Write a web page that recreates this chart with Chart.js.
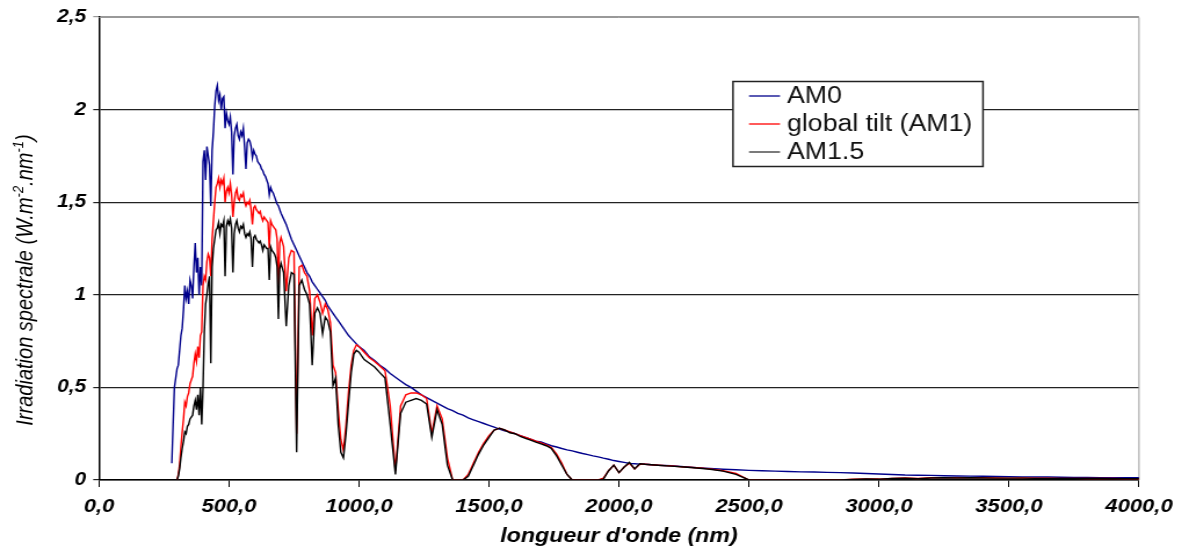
<!DOCTYPE html>
<html><head><meta charset="utf-8">
<script src="https://cdn.jsdelivr.net/npm/chart.js@4/dist/chart.umd.min.js"></script>
<style>html,body{margin:0;padding:0;background:#fff;overflow:hidden;}
#wrap{position:relative;width:1020px;height:548px;transform:scaleX(1.16);transform-origin:0 0;}
canvas{display:block;}</style>
</head><body><div id="wrap"><canvas id="c" width="1020" height="548"></canvas></div>
<script>
// Wavelength grid (nm)
const wavelengths = [
 280,285,290,295,300,305,310,315,320,325,
 330,335,340,345,350,355,360,365,370,375,
 380,385,390,395,400,405,410,415,420,425,
 430,435,440,445,450,455,460,465,470,475,
 480,485,490,495,500,505,510,515,520,525,
 530,535,540,545,550,555,560,565,570,575,
 580,585,590,595,600,605,610,615,620,625,
 630,635,640,645,650,655,660,665,670,675,
 680,685,690,695,700,
 710,720,730,740,750,760,770,780,790,800,
 810,820,830,840,850,860,870,880,890,900,
 910,920,930,940,950,960,970,980,990,1000,
 1020,1040,1060,1080,1100,1120,1140,1160,1180,1200,
 1220,1240,1260,1280,1300,1320,1340,1360,1380,1400,
 1420,1440,1460,1480,1500,1520,1540,1560,1580,1600,
 1620,1640,1660,1680,1700,1720,1740,1760,1780,1800,
 1820,1840,1860,1880,1900,1920,1940,1960,1980,2000,
 2020,2040,2060,2080,2100,
 2150,2200,2250,2300,2350,2400,2450,2500,2550,2600,
 2650,2700,2750,2800,2850,2900,2950,3000,3050,3100,
 3150,3200,3250,3300,3350,3400,3450,3500,3550,3600,
 3650,3700,3750,3800,3850,3900,3950,4000
];
// AM0 (W.m-2.nm-1)
const am0 = [
 0.09,0.30,0.50,0.55,0.60,0.62,0.70,0.78,0.82,0.92,
 1.05,0.98,1.02,0.95,1.08,1.05,0.98,1.15,1.28,1.12,
 1.20,1.00,1.15,1.05,1.72,1.78,1.62,1.80,1.75,1.70,
 1.48,1.78,1.88,2.02,2.10,2.13,2.05,2.08,2.00,2.06,
 2.07,1.90,1.98,1.94,1.92,1.96,1.88,1.65,1.86,1.90,
 1.92,1.86,1.84,1.88,1.86,1.90,1.80,1.68,1.82,1.84,
 1.83,1.80,1.74,1.78,1.76,1.75,1.72,1.71,1.70,1.68,
 1.67,1.65,1.64,1.62,1.60,1.54,1.58,1.56,1.55,1.53,
 1.51,1.49,1.48,1.46,1.44,
 1.41,1.38,1.34,1.30,1.27,1.24,1.21,1.18,1.15,1.12,
 1.10,1.07,1.05,1.03,1.01,0.99,0.97,0.94,0.92,0.90,
 0.88,0.86,0.84,0.82,0.80,0.78,0.765,0.75,0.735,0.72,
 0.70,0.665,0.645,0.62,0.60,0.575,0.555,0.535,0.515,0.50,
 0.48,0.46,0.445,0.43,0.415,0.40,0.385,0.375,0.36,0.35,
 0.335,0.325,0.315,0.305,0.295,0.285,0.275,0.265,0.26,0.25,
 0.24,0.23,0.22,0.21,0.205,0.195,0.185,0.178,0.17,0.163,
 0.157,0.15,0.143,0.137,0.13,0.125,0.118,0.112,0.105,0.10,
 0.095,0.09,0.088,0.086,0.085,
 0.08,0.077,0.072,0.066,0.062,0.058,0.055,0.052,0.05,0.048,
 0.046,0.044,0.043,0.041,0.04,0.038,0.035,0.032,0.03,0.027,
 0.026,0.025,0.023,0.022,0.021,0.02,0.019,0.018,0.017,0.016,
 0.016,0.015,0.014,0.014,0.013,0.013,0.012,0.012
];
// Global tilt (AM1)
const globalTilt = [
 null,null,null,null,0.00,0.03,0.08,0.18,0.26,0.33,
 0.42,0.40,0.45,0.47,0.52,0.54,0.56,0.63,0.68,0.64,
 0.72,0.66,0.78,0.80,1.05,1.10,1.08,1.18,1.22,1.20,
 1.10,1.30,1.40,1.50,1.58,1.60,1.63,1.58,1.62,1.60,
 1.63,1.50,1.56,1.58,1.55,1.60,1.54,1.42,1.50,1.55,
 1.57,1.52,1.51,1.54,1.53,1.55,1.50,1.48,1.50,1.49,
 1.51,1.46,1.38,1.47,1.48,1.46,1.45,1.44,1.45,1.42,
 1.40,1.42,1.41,1.40,1.39,1.25,1.40,1.38,1.37,1.36,
 1.35,1.30,1.05,1.28,1.31,
 1.26,1.02,1.20,1.24,1.23,0.25,1.15,1.16,1.12,1.10,
 1.02,0.78,0.98,1.00,0.96,0.90,0.95,0.92,0.85,0.62,
 0.58,0.38,0.22,0.16,0.30,0.48,0.62,0.70,0.73,0.72,
 0.69,0.66,0.64,0.615,0.59,0.40,0.05,0.40,0.46,0.47,
 0.47,0.46,0.44,0.25,0.40,0.33,0.12,0.0,0.0,0.0,
 0.03,0.09,0.15,0.20,0.24,0.27,0.28,0.27,0.26,0.25,
 0.24,0.23,0.22,0.21,0.20,0.19,0.175,0.14,0.09,0.03,
 0,0,0,0,0,0,0.01,0.05,0.08,0.04,
 0.07,0.09,0.06,0.085,0.085,
 0.08,0.076,0.07,0.066,0.06,0.05,0.035,0.0,0,0,
 0,0,0,0,0,0.004,0.006,0.005,0.009,0.011,
 0.008,0.012,0.013,0.012,0.013,0.012,0.011,0.01,0.011,0.01,
 0.01,0.009,0.009,0.008,0.008,0.008,0.007,0.007
];
// AM1.5
const am15 = [
 null,null,null,null,0.00,0.02,0.06,0.12,0.17,0.21,
 0.26,0.25,0.29,0.30,0.33,0.34,0.35,0.40,0.43,0.38,
 0.46,0.35,0.50,0.30,0.50,0.80,0.95,1.00,1.06,1.10,
 0.63,1.15,1.25,1.30,1.35,1.36,1.39,1.33,1.38,1.37,
 1.40,1.10,1.37,1.40,1.38,1.41,1.36,1.12,1.33,1.38,
 1.40,1.36,1.34,1.37,1.36,1.38,1.33,1.31,1.33,1.32,
 1.34,1.30,1.15,1.31,1.32,1.30,1.29,1.28,1.29,1.27,
 1.24,1.27,1.26,1.25,1.25,1.08,1.26,1.24,1.23,1.22,
 1.20,1.15,0.87,1.14,1.17,
 1.12,0.83,1.05,1.12,1.11,0.15,1.05,1.08,1.03,1.00,
 0.95,0.62,0.90,0.93,0.90,0.79,0.88,0.86,0.80,0.51,
 0.55,0.30,0.15,0.12,0.25,0.42,0.58,0.68,0.70,0.69,
 0.65,0.63,0.61,0.58,0.55,0.30,0.03,0.36,0.42,0.43,
 0.44,0.43,0.41,0.23,0.38,0.30,0.08,0.0,0.0,0.0,
 0.02,0.08,0.14,0.19,0.23,0.27,0.28,0.27,0.255,0.25,
 0.235,0.225,0.215,0.205,0.195,0.185,0.17,0.13,0.08,0.03,
 0,0,0,0,0,0,0.005,0.05,0.08,0.04,
 0.07,0.095,0.06,0.088,0.085,
 0.08,0.075,0.07,0.065,0.058,0.048,0.03,0.0,0,0,
 0,0,0,0,0,0.003,0.005,0.004,0.008,0.01,
 0.007,0.011,0.012,0.011,0.012,0.011,0.01,0.01,0.01,0.009,
 0.009,0.009,0.008,0.008,0.008,0.007,0.007,0.007
];
const seriesLabels = ['AM0', 'global tilt (AM1)', 'AM1.5'];
const seriesColors = ['#00008B', '#FF0000', '#000000'];
const xTickLabels = ['0,0','500,0','1000,0','1500,0','2000,0','2500,0','3000,0','3500,0','4000,0'];
const yTickLabels = ['0','0,5','1','1,5','2','2,5'];
const xTitle = "longueur d'onde (nm)";
const yTitleParts = [['Irradiation spectrale (W.m',0],['-2',1],['.nm',0],['-1',1],[')',0]];

const S = 1.16; // horizontal stretch applied to the canvas (CSS)
const FONT = "'Liberation Sans', Arial, sans-serif";
const toPts = arr => wavelengths.map((w,i)=>({x:w, y:arr[i]}));

const yTitlePlugin = {
  id:'yTitle',
  afterDraw(chart){
    const ctx = chart.ctx;
    ctx.save();
    ctx.translate(26/S, 280);
    ctx.rotate(-Math.PI/2);
    ctx.fillStyle = '#000';
    ctx.textBaseline = 'middle';
    const big = 'italic 20px ' + FONT, small = 'italic 13px ' + FONT;
    let total = 0;
    yTitleParts.forEach(([t,s])=>{ ctx.font = s?small:big; total += ctx.measureText(t).width; });
    let x = -total/2;
    yTitleParts.forEach(([t,s])=>{
      ctx.font = s?small:big;
      ctx.fillText(t, x, s ? -6 : 0);
      x += ctx.measureText(t).width;
    });
    ctx.restore();
  }
};
const framePlugin = {
  id:'frame',
  beforeDatasetsDraw(chart){
    const {ctx, chartArea:a} = chart;
    ctx.save();
    ctx.strokeStyle = '#999';
    ctx.lineWidth = 1;
    ctx.beginPath();
    ctx.moveTo(a.left, a.top+0.5); ctx.lineTo(a.right, a.top+0.5); ctx.lineTo(a.right, a.bottom);
    ctx.stroke();
    ctx.restore();
  }
};
const legendPlugin = {
  id:'boxLegend',
  afterDraw(chart){
    const ctx = chart.ctx;
    ctx.save();
    const bx=733/S, by=81, bw=250/S, bh=85;
    ctx.fillStyle='#fff'; ctx.fillRect(bx,by,bw,bh);
    ctx.strokeStyle='#222'; ctx.lineWidth=1.5; ctx.strokeRect(bx,by+0.5,bw,bh);
    ctx.font = '23px ' + FONT; ctx.textBaseline='middle'; ctx.fillStyle='#111';
    chart.data.datasets.forEach((ds,i)=>{
      const y = by + 15 + i*28;
      ctx.strokeStyle = i===2 ? '#333' : ds.borderColor; ctx.lineWidth=1.3;
      ctx.beginPath(); ctx.moveTo(749/S,y); ctx.lineTo(780/S,y); ctx.stroke();
      ctx.fillText(ds.label, 787/S, y+1);
    });
    ctx.restore();
  }
};

new Chart(document.getElementById('c'), {
  type:'line',
  data:{
    datasets:[
      {label:seriesLabels[0], data:toPts(am0), borderColor:seriesColors[0], order:3},
      {label:seriesLabels[1], data:toPts(globalTilt), borderColor:seriesColors[1], order:2},
      {label:seriesLabels[2], data:toPts(am15), borderColor:seriesColors[2], order:1}
    ].map(d=>Object.assign(d,{borderWidth:1.4, pointRadius:0, tension:0, fill:false, spanGaps:false}))
  },
  options:{
    responsive:false, animation:false, devicePixelRatio:1,
    layout:{padding:{left:0,right:1020-1139/S,top:17,bottom:0}},
    plugins:{legend:{display:false}, tooltip:{enabled:false}},
    scales:{
      x:{type:'linear', min:0, max:4000,
        ticks:{stepSize:500, autoSkip:false, maxRotation:0, padding:8, color:'#000',
          font:{family:FONT, size:19, style:'italic', weight:'bold'},
          callback:(v,i)=>xTickLabels[i]},
        grid:{drawOnChartArea:false, color:'#000', tickLength:7},
        border:{color:'#000', width:1.5},
        title:{display:true, text:xTitle, color:'#000', padding:{top:2,bottom:0},
          font:{family:FONT, size:20, style:'italic', weight:'bold'}},
        afterFit:s=>{s.height=68;}
      },
      y:{min:0, max:2.5,
        ticks:{stepSize:0.5, padding:6, color:'#000',
          font:{family:FONT, size:18, style:'italic', weight:'bold'},
          callback:(v,i)=>yTickLabels[i]},
        grid:{color:c=> (c.tick && c.tick.value===2.5) ? '#999' : '#222', tickLength:5, lineWidth:1.2},
        border:{color:'#000', width:1.5},
        afterFit:s=>{s.width=99/S;}
      }
    }
  },
  plugins:[framePlugin, legendPlugin, yTitlePlugin]
});
</script></body></html>
